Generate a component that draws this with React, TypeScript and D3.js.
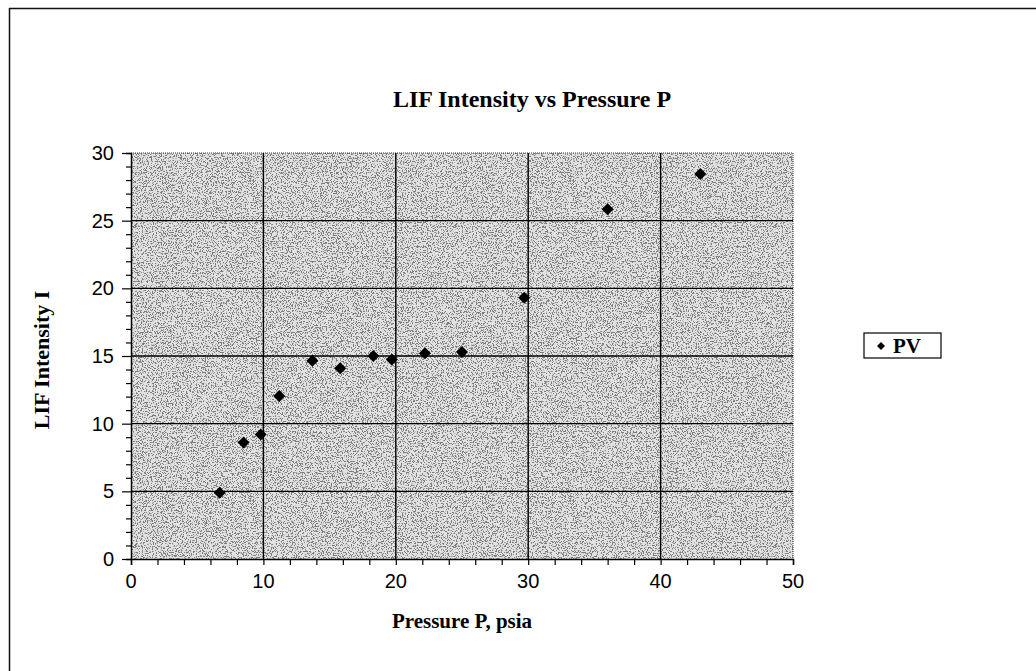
import { useEffect, useRef } from "react";
import * as d3 from "d3";

// values
const pressure = [6.7, 8.5, 9.8, 11.2, 13.7, 15.8, 18.3, 19.7, 22.2, 25.0, 29.7, 36.0, 43.0];
const intensity = [4.9, 8.6, 9.2, 12.05, 14.65, 14.1, 15.0, 14.75, 15.2, 15.3, 19.3, 25.85, 28.45];
const xTicks = [0, 10, 20, 30, 40, 50];
const yTicks = [0, 5, 10, 15, 20, 25, 30];
const seriesName = "PV";

const W = 1036;
const H = 671;

export default function App() {
  const svgRef = useRef<SVGSVGElement>(null);

  useEffect(() => {
    if (!svgRef.current) return;
    const svg = d3.select(svgRef.current);
    svg.selectAll("*").remove();

    const plot = { left: 131, right: 793, top: 153, bottom: 559 };
    const x = d3.scaleLinear().domain([0, 50]).range([plot.left, plot.right]);
    const y = d3.scaleLinear().domain([0, 30]).range([plot.bottom, plot.top]);

    const serif = "'Liberation Serif', 'Times New Roman', serif";
    const sans = "'Liberation Sans', Arial, sans-serif";

    // stipple texture for the plot area
    const defs = svg.append("defs");
    const filt = defs
      .append("filter")
      .attr("id", "stipple")
      .attr("x", 0)
      .attr("y", 0)
      .attr("width", "100%")
      .attr("height", "100%");
    filt
      .append("feTurbulence")
      .attr("type", "fractalNoise")
      .attr("baseFrequency", 0.8)
      .attr("numOctaves", 2)
      .attr("seed", 7)
      .attr("result", "n");
    filt
      .append("feColorMatrix")
      .attr("in", "n")
      .attr("type", "matrix")
      .attr("values", "0 0 0 0 0.2  0 0 0 0 0.2  0 0 0 0 0.2  12 0 0 0 -6.3");

    // outer frame (top and left only visible)
    svg.append("line").attr("x1", 9).attr("x2", W).attr("y1", 8.5).attr("y2", 8.5).attr("stroke", "#111").attr("stroke-width", 1.5);
    svg.append("line").attr("x1", 9.5).attr("x2", 9.5).attr("y1", 8).attr("y2", H).attr("stroke", "#111").attr("stroke-width", 1.5);

    // plot background
    svg
      .append("rect")
      .attr("x", plot.left)
      .attr("y", plot.top)
      .attr("width", plot.right - plot.left)
      .attr("height", plot.bottom - plot.top)
      .attr("fill", "#e2e2e2");
    svg
      .append("rect")
      .attr("x", plot.left)
      .attr("y", plot.top)
      .attr("width", plot.right - plot.left)
      .attr("height", plot.bottom - plot.top)
      .attr("fill", "#fff")
      .attr("filter", "url(#stipple)");

    // dotted top/right edges
    svg
      .append("path")
      .attr("d", `M${plot.left},${plot.top}H${plot.right}V${plot.bottom}`)
      .attr("fill", "none")
      .attr("stroke", "#333")
      .attr("stroke-width", 1)
      .attr("stroke-dasharray", "1,1");

    // gridlines
    svg
      .append("g")
      .selectAll("line")
      .data(xTicks.filter((d) => d > 0 && d < 50))
      .join("line")
      .attr("x1", (d) => x(d))
      .attr("x2", (d) => x(d))
      .attr("y1", plot.top)
      .attr("y2", plot.bottom)
      .attr("stroke", "#000")
      .attr("stroke-width", 1.4);
    svg
      .append("g")
      .selectAll("line")
      .data(yTicks.filter((d) => d > 0 && d < 30))
      .join("line")
      .attr("x1", plot.left)
      .attr("x2", plot.right)
      .attr("y1", (d) => y(d))
      .attr("y2", (d) => y(d))
      .attr("stroke", "#000")
      .attr("stroke-width", 1.4);

    // axes
    const xAxis = d3
      .axisBottom(x)
      .tickValues(d3.range(0, 51, 2))
      .tickSize(6)
      .tickFormat(() => "");
    const gx = svg.append("g").attr("transform", `translate(0,${plot.bottom})`).call(xAxis);
    gx.select(".domain").attr("stroke", "#000").attr("stroke-width", 1.5);
    gx.selectAll(".tick line").attr("stroke", "#000").attr("stroke-width", 1.2);

    const yAxis = d3
      .axisLeft(y)
      .tickValues(d3.range(0, 31, 1))
      .tickSize(5)
      .tickFormat(() => "");
    const gy = svg.append("g").attr("transform", `translate(${plot.left},0)`).call(yAxis);
    gy.select(".domain").attr("stroke", "#000").attr("stroke-width", 1.5);
    gy.selectAll(".tick line")
      .attr("stroke", "#000")
      .attr("stroke-width", 1.2)
      .attr("x2", (d) => ((d as number) % 5 === 0 ? -9 : -5));

    // tick labels
    svg
      .append("g")
      .selectAll("text")
      .data(xTicks)
      .join("text")
      .attr("x", (d) => x(d))
      .attr("y", plot.bottom + 29)
      .attr("text-anchor", "middle")
      .style("font-family", sans)
      .style("font-size", "20px")
      .text((d) => d);
    svg
      .append("g")
      .selectAll("text")
      .data(yTicks)
      .join("text")
      .attr("x", plot.left - 17)
      .attr("y", (d) => y(d) + 7)
      .attr("text-anchor", "end")
      .style("font-family", sans)
      .style("font-size", "20px")
      .text((d) => d);

    // titles
    svg
      .append("text")
      .attr("x", 532)
      .attr("y", 107)
      .attr("text-anchor", "middle")
      .style("font-family", serif)
      .style("font-weight", "bold")
      .style("font-size", "24px")
      .text("LIF Intensity vs Pressure P");
    svg
      .append("text")
      .attr("x", 462)
      .attr("y", 628)
      .attr("text-anchor", "middle")
      .style("font-family", serif)
      .style("font-weight", "bold")
      .style("font-size", "21px")
      .text("Pressure P, psia");
    svg
      .append("text")
      .attr("transform", `translate(49,360) rotate(-90)`)
      .attr("text-anchor", "middle")
      .style("font-family", serif)
      .style("font-weight", "bold")
      .style("font-size", "22px")
      .text("LIF Intensity I");

    // points
    const diamond = d3.symbol().type(d3.symbolSquare).size(72);
    svg
      .append("g")
      .selectAll("path")
      .data(pressure.map((p, i) => [p, intensity[i]]))
      .join("path")
      .attr("d", diamond)
      .attr("transform", (d) => `translate(${x(d[0])},${y(d[1])}) rotate(45)`)
      .attr("fill", "#000");

    // legend
    const lg = svg.append("g").attr("transform", "translate(864,333)");
    lg.append("rect").attr("width", 77).attr("height", 25).attr("fill", "#fff").attr("stroke", "#000").attr("stroke-width", 1.2);
    lg.append("path")
      .attr("d", d3.symbol().type(d3.symbolSquare).size(32)())
      .attr("transform", "translate(17,13) rotate(45)")
      .attr("fill", "#000");
    lg.append("text")
      .attr("x", 29)
      .attr("y", 20)
      .style("font-family", serif)
      .style("font-weight", "bold")
      .style("font-size", "21px")
      .text(seriesName);
  }, []);

  return (
    <svg
      ref={svgRef}
      width={W}
      height={H}
      style={{ position: "absolute", left: 0, top: 0, background: "#fff" }}
    />
  );
}
